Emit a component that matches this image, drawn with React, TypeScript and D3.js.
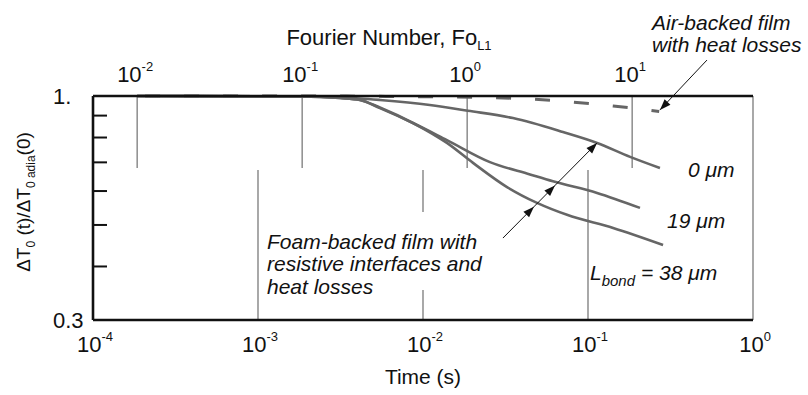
import React from 'react';
import * as d3 from 'd3';

// tick exponents for the two log axes
const timeExponents = [-4, -3, -2, -1, 0];
const fourierExponents = [-2, -1, 0, 1];
const yMinorTicks = [0.4, 0.5, 0.6, 0.7, 0.8, 0.9];
const yLabelTicks = [
  { value: 1, label: '1.' },
  { value: 0.3, label: '0.3' },
];
// Fo_L1 per second of time
const fourierPerSecond = 54;

// air-backed film with heat losses (dashed)
const airTime = [1.85e-4, 1.8e-3, 8.0e-3, 0.0244, 0.0445, 0.081, 0.142, 0.27];
const airRatio = [1.0, 1.0, 0.997, 0.992, 0.984, 0.968, 0.948, 0.92];

// foam-backed film, L_bond = 0 um
const bond0Time = [1.85e-4, 1.8e-3, 3.14e-3, 4.15e-3, 5.48e-3, 0.011, 0.0187, 0.0351, 0.0705, 0.1135, 0.18, 0.273];
const bond0Ratio = [1.0, 0.997, 0.992, 0.987, 0.979, 0.953, 0.924, 0.888, 0.824, 0.777, 0.721, 0.679];

// L_bond = 19 um
const bond19Time = [1.85e-4, 1.8e-3, 3.14e-3, 4.15e-3, 5.48e-3, 8.69e-3, 0.01396, 0.02546, 0.0445, 0.0613, 0.1135, 0.2066];
const bond19Ratio = [1.0, 0.997, 0.989, 0.979, 0.937, 0.865, 0.789, 0.701, 0.656, 0.632, 0.594, 0.548];

// L_bond = 38 um
const bond38Time = [1.85e-4, 1.8e-3, 3.14e-3, 4.15e-3, 5.48e-3, 8.69e-3, 0.01396, 0.0201, 0.0323, 0.0491, 0.0746, 0.142, 0.285];
const bond38Ratio = [1.0, 0.997, 0.989, 0.979, 0.94, 0.865, 0.777, 0.698, 0.613, 0.563, 0.528, 0.492, 0.449];

// annotation arrows, in data units [time, ratio]
const foamArrowFrom = [0.0305, 0.466];
const foamArrowTo = [0.1135, 0.777];
const foamArrowHeads = [0.33, 0.553, 1];
const airArrowFrom = [0.526, 1.213];
const airArrowTo = [0.273, 0.928];

const W = 808;
const H = 395;
const margin = { top: 96, right: 55, bottom: 75, left: 93 };
const font = '"Liberation Sans", Arial, Helvetica, sans-serif';
const curveColor = '#666';
const gridColor = '#7a7a7a';

const zip = (a: number[], b: number[]) => a.map((d, i) => [d, b[i]] as [number, number]);

export default function App() {
  const x0 = margin.left;
  const x1 = W - margin.right;
  const y0 = margin.top;
  const y1 = H - margin.bottom;

  const x = d3.scaleLog().domain([1e-4, 1]).range([x0, x1]);
  const fo = d3.scaleLog().domain([1e-4 * fourierPerSecond, fourierPerSecond]).range([x0, x1]);
  const y = d3.scaleLog().domain([0.3, 1]).range([y1, y0]);

  const line = d3
    .line<[number, number]>()
    .x((d) => x(d[0]))
    .y((d) => y(d[1]))
    .curve(d3.curveMonotoneX);

  const solid = [
    zip(bond0Time, bond0Ratio),
    zip(bond19Time, bond19Ratio),
    zip(bond38Time, bond38Ratio),
  ];

  const arrowHead = (px: number, py: number, ux: number, uy: number, len = 11, half = 4) => {
    const nx = -uy;
    const ny = ux;
    const bx = px - ux * len;
    const by = py - uy * len;
    return `M${px},${py}L${bx + nx * half},${by + ny * half}L${bx - nx * half},${by - ny * half}Z`;
  };

  const fa = [x(foamArrowFrom[0]), y(foamArrowFrom[1])];
  const fb = [x(foamArrowTo[0]), y(foamArrowTo[1])];
  const fLen = Math.hypot(fb[0] - fa[0], fb[1] - fa[1]);
  const fu = [(fb[0] - fa[0]) / fLen, (fb[1] - fa[1]) / fLen];

  const aa = [x(airArrowFrom[0]), y(airArrowFrom[1])];
  const ab = [x(airArrowTo[0]), y(airArrowTo[1])];
  const aLen = Math.hypot(ab[0] - aa[0], ab[1] - aa[1]);
  const au = [(ab[0] - aa[0]) / aLen, (ab[1] - aa[1]) / aLen];

  const midY = (y0 + y1) / 2;
  const gridBottomTop = 170;
  const gridTopBottom = 168;

  return (
    <svg
      width={W}
      height={H}
      style={{ position: 'absolute', left: 0, top: 0, background: '#fff' }}
      fontFamily={font}
    >
      <rect width={W} height={H} fill="#fff" />

      {/* long ticks hanging from the Fourier axis */}
      {fourierExponents.map((e) => (
        <line
          key={'ft' + e}
          x1={fo(Math.pow(10, e))}
          x2={fo(Math.pow(10, e))}
          y1={y0}
          y2={gridTopBottom}
          stroke={gridColor}
          strokeWidth={1.3}
        />
      ))}

      {/* long ticks rising from the time axis */}
      {timeExponents.slice(1, -1).map((e) => (
        <line
          key={'tt' + e}
          x1={x(Math.pow(10, e))}
          x2={x(Math.pow(10, e))}
          y1={y1}
          y2={gridBottomTop}
          stroke={gridColor}
          strokeWidth={1.3}
        />
      ))}

      {/* right frame */}
      <line x1={x1} x2={x1} y1={y0} y2={y1} stroke={gridColor} strokeWidth={1.3} />

      {/* curves */}
      <path
        d={line(zip(airTime, airRatio)) || ''}
        fill="none"
        stroke={curveColor}
        strokeWidth={3}
        strokeDasharray="15 24"
        strokeDashoffset={-8}
      />
      {solid.map((s, i) => (
        <path key={'c' + i} d={line(s) || ''} fill="none" stroke={curveColor} strokeWidth={2.6} />
      ))}

      {/* frame */}
      <line x1={x0} x2={x1} y1={y0} y2={y0} stroke="#111" strokeWidth={2.4} />
      <line x1={x0} x2={x1} y1={y1} y2={y1} stroke="#111" strokeWidth={2.6} />
      <line x1={x0} x2={x0} y1={y0} y2={y1} stroke="#111" strokeWidth={2.6} />
      {yMinorTicks.map((v) => (
        <line key={'ym' + v} x1={x0} x2={x0 + 14} y1={y(v)} y2={y(v)} stroke="#111" strokeWidth={2} />
      ))}

      {/* y tick labels */}
      {yLabelTicks.map((t) => (
        <text key={'yl' + t.value} x={x0 - 40} y={y(t.value) + 8} fontSize={22} fill="#111">
          {t.label}
        </text>
      ))}

      {/* time tick labels */}
      {timeExponents.map((e) => (
        <text key={'tl' + e} x={x(Math.pow(10, e)) + 2} y={352} fontSize={22} textAnchor="middle" fill="#111">
          10<tspan fontSize={13} dy={-11}>{e === 0 ? '0' : '-' + -e}</tspan>
        </text>
      ))}

      {/* Fourier tick labels */}
      {fourierExponents.map((e) => (
        <text key={'fl' + e} x={fo(Math.pow(10, e)) - 2} y={82} fontSize={22} textAnchor="middle" fill="#111">
          10<tspan fontSize={13} dy={-11}>{e < 0 ? '-' + -e : String(e)}</tspan>
        </text>
      ))}

      {/* axis titles */}
      <text x={(x0 + x1) / 2} y={384} fontSize={21} textAnchor="middle" fill="#111">
        Time  (s)
      </text>
      <text x={389} y={45} fontSize={22} textAnchor="middle" fill="#111">
        Fourier Number, Fo<tspan fontSize={13} dy={5}>L1</tspan>
      </text>
      <text
        transform={`translate(30,${midY - 6}) rotate(-90)`}
        fontSize={19}
        textAnchor="middle"
        fill="#111"
      >
        ΔT<tspan fontSize={12} dy={5}>0</tspan>
        <tspan dy={-5}> (t)/ΔT</tspan>
        <tspan fontSize={12} dy={5}>0 adia</tspan>
        <tspan dy={-5}>(0)</tspan>
      </text>

      {/* foam label with white box */}
      <rect x={262} y={212} width={232} height={78} fill="#fff" />
      <g fontSize={21} fontStyle="italic" fill="#111">
        <text x={267} y={249}>Foam-backed film with</text>
        <text x={267} y={271}>resistive interfaces and</text>
        <text x={267} y={294}>heat losses</text>
      </g>

      {/* air label */}
      <g fontSize={21} fontStyle="italic" fill="#111">
        <text x={652} y={30}>Air-backed film</text>
        <text x={652} y={52}>with heat losses</text>
      </g>

      {/* curve labels */}
      <g fontSize={21} fontStyle="italic" fill="#111">
        <text x={688} y={177}>0 μm</text>
        <text x={667} y={228}>19 μm</text>
        <text x={590} y={280}>
          L<tspan fontSize={15} dy={6}>bond</tspan>
          <tspan dy={-6}> = 38 μm</tspan>
        </text>
      </g>

      {/* arrows */}
      <line x1={fa[0]} y1={fa[1]} x2={fb[0]} y2={fb[1]} stroke="#111" strokeWidth={1} />
      {foamArrowHeads.map((f) => (
        <path
          key={'ah' + f}
          d={arrowHead(fa[0] + fu[0] * fLen * f, fa[1] + fu[1] * fLen * f, fu[0], fu[1])}
          fill="#111"
        />
      ))}
      <line x1={aa[0]} y1={aa[1]} x2={ab[0]} y2={ab[1]} stroke="#111" strokeWidth={1} />
      <path d={arrowHead(ab[0], ab[1], au[0], au[1])} fill="#111" />
    </svg>
  );
}
